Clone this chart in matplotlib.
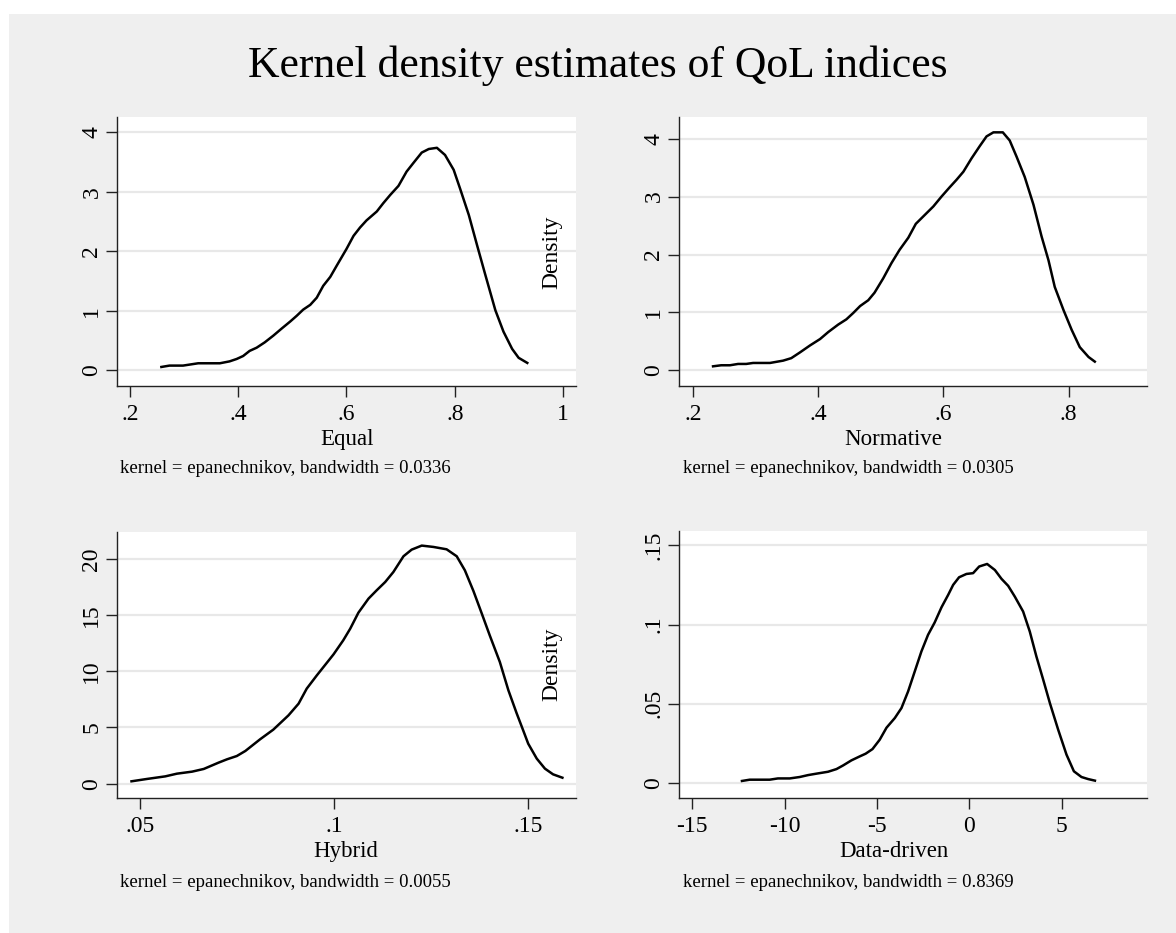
import matplotlib
matplotlib.use("Agg")
import matplotlib.pyplot as plt
from matplotlib.patches import Rectangle
from matplotlib.ticker import FixedLocator, FixedFormatter

plt.rcParams['font.family'] = ['Liberation Serif', 'DejaVu Serif']

# ---------------- data ----------------
title = "Kernel density estimates of QoL indices"
x_titles = ["Equal", "Normative", "Hybrid", "Data-driven"]
notes = ["kernel = epanechnikov, bandwidth = 0.0336",
         "kernel = epanechnikov, bandwidth = 0.0305",
         "kernel = epanechnikov, bandwidth = 0.0055",
         "kernel = epanechnikov, bandwidth = 0.8369"]
y_title = "Density"

equal_x = [0.258, 0.273, 0.298, 0.326, 0.366, 0.384, 0.397, 0.409, 0.421, 0.434,
           0.449, 0.465, 0.480, 0.496, 0.508, 0.520, 0.533, 0.545, 0.557, 0.570,
           0.582, 0.600, 0.613, 0.625, 0.637, 0.656, 0.668, 0.681, 0.696, 0.711,
           0.724, 0.739, 0.752, 0.767, 0.782, 0.798, 0.810, 0.826, 0.841, 0.856,
           0.875, 0.890, 0.906, 0.918, 0.934]
equal_y = [0.056, 0.079, 0.079, 0.118, 0.118, 0.150, 0.190, 0.240, 0.326, 0.380,
           0.470, 0.584, 0.700, 0.820, 0.916, 1.020, 1.100, 1.220, 1.420, 1.570,
           1.760, 2.040, 2.260, 2.400, 2.520, 2.670, 2.810, 2.950, 3.100, 3.340,
           3.490, 3.660, 3.720, 3.740, 3.620, 3.370, 3.050, 2.610, 2.110, 1.620,
           1.010, 0.650, 0.360, 0.210, 0.124]

norm_x = [0.232, 0.245, 0.259, 0.272, 0.285, 0.296, 0.323, 0.344, 0.357, 0.371,
          0.387, 0.403, 0.416, 0.432, 0.445, 0.456, 0.467, 0.480, 0.490, 0.504,
          0.517, 0.530, 0.544, 0.556, 0.570, 0.584, 0.597, 0.610, 0.621, 0.632,
          0.645, 0.658, 0.669, 0.680, 0.695, 0.706, 0.717, 0.730, 0.744, 0.757,
          0.768, 0.778, 0.792, 0.805, 0.818, 0.832, 0.842]
norm_y = [0.069, 0.087, 0.087, 0.110, 0.110, 0.127, 0.127, 0.167, 0.210, 0.310,
          0.430, 0.540, 0.660, 0.790, 0.880, 0.990, 1.110, 1.210, 1.340, 1.590,
          1.850, 2.080, 2.290, 2.530, 2.680, 2.830, 3.000, 3.160, 3.290, 3.430,
          3.660, 3.870, 4.040, 4.110, 4.110, 3.970, 3.690, 3.340, 2.860, 2.310,
          1.900, 1.440, 1.040, 0.700, 0.400, 0.230, 0.150]

hyb_x = [0.0479, 0.0519, 0.0566, 0.0596, 0.0635, 0.0665, 0.0703, 0.0725, 0.0750,
         0.0772, 0.0810, 0.0844, 0.0883, 0.0909, 0.0930, 0.0956, 0.0982, 0.0999,
         0.1024, 0.1042, 0.1063, 0.1089, 0.1110, 0.1132, 0.1153, 0.1179, 0.1200,
         0.1226, 0.1256, 0.1290, 0.1316, 0.1337, 0.1359, 0.1380, 0.1401, 0.1427,
         0.1449, 0.1470, 0.1487, 0.1500, 0.1522, 0.1543, 0.1564, 0.1588]
hyb_y = [0.21, 0.42, 0.65, 0.89, 1.07, 1.31, 1.87, 2.17, 2.46, 2.91, 3.95, 4.81,
         6.08, 7.12, 8.46, 9.64, 10.77, 11.51, 12.76, 13.80, 15.22, 16.47, 17.21,
         17.95, 18.84, 20.24, 20.83, 21.19, 21.07, 20.86, 20.24, 18.99, 17.15,
         15.19, 13.20, 10.83, 8.31, 6.29, 4.75, 3.56, 2.23, 1.34, 0.83, 0.53]

dd_x = [-12.31, -11.89, -10.81, -10.36, -9.72, -9.18, -8.73, -8.28, -7.65, -7.19,
        -6.83, -6.38, -5.93, -5.61, -5.24, -4.85, -4.48, -4.03, -3.67, -3.31,
        -2.95, -2.59, -2.23, -1.87, -1.50, -1.14, -0.87, -0.55, -0.15, 0.21,
        0.54, 0.97, 1.39, 1.75, 2.11, 2.47, 2.92, 3.28, 3.64, 4.01, 4.37, 4.82,
        5.27, 5.67, 6.08, 6.44, 6.81]
dd_y = [0.0013, 0.0021, 0.0021, 0.0029, 0.0029, 0.0038, 0.0050, 0.0059, 0.0071,
        0.0088, 0.0111, 0.0143, 0.0168, 0.0185, 0.0214, 0.0273, 0.0349, 0.0410,
        0.0473, 0.0578, 0.0704, 0.0830, 0.0935, 0.1013, 0.1109, 0.1187, 0.1250,
        0.1298, 0.1319, 0.1324, 0.1366, 0.1382, 0.1344, 0.1288, 0.1244, 0.1176,
        0.1082, 0.0956, 0.0798, 0.0651, 0.0504, 0.0336, 0.0179, 0.0074, 0.0038,
        0.0025, 0.0015]

x_ticks = [[0.2, 0.4, 0.6, 0.8, 1.0], [0.2, 0.4, 0.6, 0.8],
           [0.05, 0.10, 0.15], [-15, -10, -5, 0, 5]]
x_ticklabels = [[".2", ".4", ".6", ".8", "1"], [".2", ".4", ".6", ".8"],
                [".05", ".1", ".15"], ["-15", "-10", "-5", "0", "5"]]
y_ticks = [[0, 1, 2, 3, 4], [0, 1, 2, 3, 4], [0, 5, 10, 15, 20],
           [0, 0.05, 0.10, 0.15]]
y_ticklabels = [["0", "1", "2", "3", "4"], ["0", "1", "2", "3", "4"],
                ["0", "5", "10", "15", "20"], ["0", ".05", ".1", ".15"]]

# ---------------- layout ----------------
W, H = 1176, 933
fig = plt.figure(figsize=(W / 100, H / 100), dpi=100)
fig.patch.set_facecolor("white")
bg = Rectangle((9 / W, 0), 1 - 9 / W, 1 - 14 / H,
               transform=fig.transFigure, facecolor="#efefef",
               edgecolor="none", zorder=-10)
fig.add_artist(bg)

def fx(px):
    return px / W

def fy(py):
    return 1 - py / H

# axes boxes in pixels: left, top, right, bottom
boxes = [(117, 117, 576, 386), (679, 117, 1147, 386),
         (117, 532, 576, 798), (679, 531, 1147, 798)]
xlims = [(0.176, 1.024), (0.1776, 0.9254), (0.04417, 0.1623), (-15.72, 9.63)]
ylims = [(-0.264, 4.258), (-0.271, 4.375), (-1.276, 22.40), (-0.00945, 0.159)]
series = [(equal_x, equal_y), (norm_x, norm_y), (hyb_x, hyb_y), (dd_x, dd_y)]

xtitle_pos = [(347, 445), (893, 445), (346, 857), (894, 857)]
note_pos = [(120, 473), (683, 473), (120, 887), (683, 887)]
density_pos = [(552, 252), (552, 664)]

for i, (l, t, r, b) in enumerate(boxes):
    ax = fig.add_axes([fx(l), fy(b), fx(r - l), (b - t) / H], zorder=1)
    ax.set_facecolor("white")
    xs, ys = series[i]
    ax.plot(xs, ys, color="black", lw=1.8, solid_joinstyle="round", zorder=3)
    ax.set_xlim(*xlims[i])
    ax.set_ylim(*ylims[i])
    ax.xaxis.set_major_locator(FixedLocator(x_ticks[i]))
    ax.xaxis.set_major_formatter(FixedFormatter(x_ticklabels[i]))
    ax.yaxis.set_major_locator(FixedLocator(y_ticks[i]))
    ax.yaxis.set_major_formatter(FixedFormatter(y_ticklabels[i]))
    for lab in ax.get_yticklabels():
        lab.set_rotation(90)
        lab.set_va("center")
    ax.tick_params(axis="both", direction="out", length=8, width=1.0,
                   color="#222222", labelsize=17, labelcolor="black")
    ax.tick_params(axis="x", pad=5)
    ax.tick_params(axis="y", pad=2.5)
    for s in ["top", "right"]:
        ax.spines[s].set_visible(False)
    for s in ["left", "bottom"]:
        ax.spines[s].set_color("#222222")
        ax.spines[s].set_linewidth(1.0)
    ax.grid(axis="y", color="#e8e8e8", lw=1.6, zorder=1)
    ax.set_axisbelow(True)

    fig.text(fx(xtitle_pos[i][0]), fy(xtitle_pos[i][1]), x_titles[i],
             ha="center", va="baseline", fontsize=16.5, zorder=5)
    fig.text(fx(note_pos[i][0]), fy(note_pos[i][1]), notes[i],
             ha="left", va="baseline", fontsize=13.5, zorder=5)

for (px, py) in density_pos:
    fig.text(fx(px), fy(py), y_title, rotation=90, ha="center", va="center",
             fontsize=17, zorder=5)

fig.text(fx(598), fy(77), title, ha="center", va="baseline", fontsize=31.4,
         zorder=5)

fig.savefig("out.png", dpi=100, facecolor=fig.get_facecolor())
